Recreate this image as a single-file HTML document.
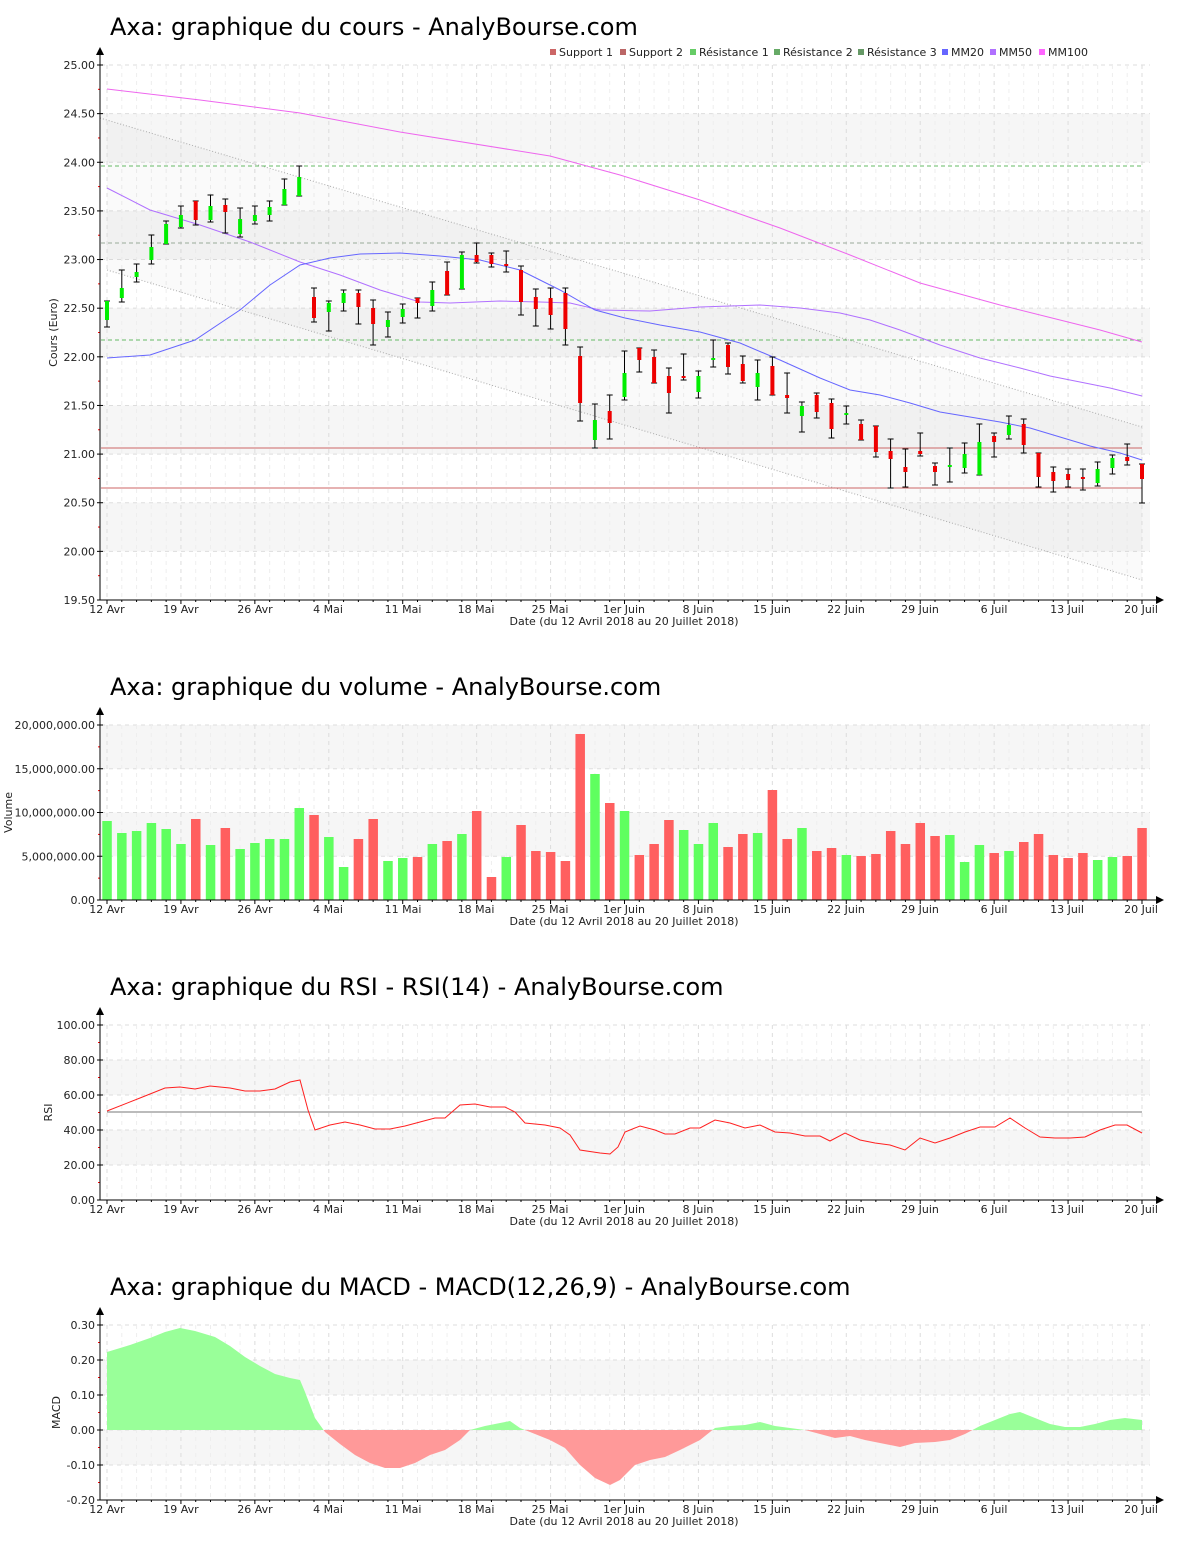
<!DOCTYPE html>
<html><head><meta charset="utf-8"><style>
body{margin:0;background:#fff;}
svg text{font-family:"DejaVu Sans","Liberation Sans",sans-serif;}
</style></head><body>
<svg id="s" width="1200" height="1550" xmlns="http://www.w3.org/2000/svg"></svg>
<script>
const S=document.getElementById('s');let h='';
const X0=107,DX=(1142-107)/70;
const xs=i=>X0+i*DX;
const ticks=[["12 Avr",107],["19 Avr",181],["26 Avr",255],["4 Mai",328],["11 Mai",403],["18 Mai",476],["25 Mai",550],["1er Juin",624],["8 Juin",698],["15 Juin",772],["22 Juin",846],["29 Juin",920],["6 Juil",994],["13 Juil",1067],["20 Juil",1141]];
function frame(top,bot,labels,bands,title,ty,ylab,ylx){
  h+=`<text x="110" y="${ty}" font-size="24" fill="#000">${title}</text>`;
  const n=labels.length-1,st=(bot-top)/n;
  for(const b of bands){h+=`<rect x="101" y="${top+b*st}" width="1049" height="${st}" fill="#f6f6f6"/>`;}
  for(let i=0;i<=n;i++){const y=top+i*st;h+=`<line x1="101" x2="1150" y1="${y}" y2="${y}" stroke="#ddd" stroke-dasharray="4,4"/>`;
    h+=`<text x="95" y="${y+4}" font-size="11" text-anchor="end" fill="#222">${labels[i]}</text><line x1="97" x2="103" y1="${y}" y2="${y}" stroke="#000"/>`;
    if(i<n)h+=`<line x1="98" x2="100" y1="${y+st/2}" y2="${y+st/2}" stroke="#f00"/>`;}
  for(let i=0;i<=70;i++){const x=xs(i);h+=`<line x1="${x}" x2="${x}" y1="${top}" y2="${bot}" stroke="${i%5==0?'#ddd':'#eee'}" stroke-dasharray="4,4"/>`;
    h+=`<line x1="${x}" x2="${x}" y1="${bot}" y2="${bot+(i%5==0?4:2)}" stroke="#000"/>`;}
  for(const [t,x] of ticks)h+=`<text x="${x}" y="${bot+13}" font-size="11" text-anchor="middle" fill="#222">${t}</text>`;
  h+=`<text x="624" y="${bot+25}" font-size="11" text-anchor="middle" fill="#222">Date (du 12 Avril 2018 au 20 Juillet 2018)</text>`;
  h+=`<text transform="translate(${ylx},${(top+bot)/2}) rotate(-90)" font-size="11" text-anchor="middle" fill="#222">${ylab}</text>`;
}
function axes(top,bot){h+=`<line x1="100" x2="100" y1="${top-12}" y2="${bot}" stroke="#000"/><path d="M96,${top-10} L100,${top-18} L104,${top-10}Z"/>`;
 h+=`<line x1="100" x2="1158" y1="${bot}" y2="${bot}" stroke="#000"/><path d="M1156,${bot-4} L1164,${bot} L1156,${bot+4}Z"/>`;}
// ---- chart 1
frame(65,600,["25.00","24.50","24.00","23.50","23.00","22.50","22.00","21.50","21.00","20.50","20.00","19.50"],[1,3,5,7,9],"Axa: graphique du cours - AnalyBourse.com",35,"Cours (Euro)",57);
h+=`<polygon points="107,120 1142,427 1142,580 107,270" fill="#888" fill-opacity="0.045"/>`;
h+=`<line x1="100" y1="118" x2="1142" y2="427" stroke="#aaa" stroke-dasharray="1,2"/><line x1="107" y1="270" x2="1142" y2="580" stroke="#aaa" stroke-dasharray="1,2"/>`;
h+=`<line x1="101" x2="1142" y1="166" y2="166" stroke="#66bb66" stroke-dasharray="4,3"/><line x1="101" x2="1142" y1="243" y2="243" stroke="#99aa99" stroke-dasharray="4,3"/><line x1="101" x2="1142" y1="340" y2="340" stroke="#66bb66" stroke-dasharray="4,3"/>`;
h+=`<line x1="101" x2="1142" y1="448" y2="448" stroke="#cc6666"/><line x1="101" x2="1142" y1="488" y2="488" stroke="#cc6666"/>`;
const pl=(p,c)=>h+=`<polyline points="${p}" fill="none" stroke="${c}" stroke-width="1"/>`;
pl("107,89 200,100 300,113 400,132 550,156 620,175 700,200 780,228 850,255 920,283 1000,305 1060,320 1100,330 1142,342","#ee66ee");
pl("107,188 150,210 200,225 250,242 300,262 340,275 380,290 420,302 450,303 500,301 540,302 570,303 600,310 650,311 700,307 760,305 800,308 840,313 870,320 900,330 940,345 980,358 1020,368 1050,376 1080,382 1110,388 1142,396","#b070ff");
pl("107,358 150,355 195,340 240,310 270,285 300,265 330,258 360,254 400,253 440,256 480,260 520,270 560,290 595,310 625,318 660,325 700,332 740,343 780,360 820,378 850,390 880,395 910,403 940,412 970,417 1000,422 1030,428 1060,437 1090,446 1120,453 1142,460","#6666ff");
const C=[[301,301,320,327,'g'],[270,288,298,302,'g'],[264,272,277,282,'g'],[235,247,260,264,'g'],[221,224,244,244,'g'],[206,215,227,228,'g'],[201,201,220,225,'r'],[195,206,220,222,'g'],[199,205,212,233,'r'],[208,219,234,237,'g'],[206,215,221,224,'g'],[201,207,215,221,'g'],[179,189,205,205,'g'],[166,177,196,196,'g'],
[288,297,318,322,'r'],[301,303,312,331,'g'],[290,293,303,311,'g'],[290,293,307,324,'r'],[300,308,324,345,'r'],[312,320,327,337,'g'],[304,309,317,323,'g'],[298,298,303,318,'r'],[282,290,306,311,'g'],[262,271,295,295,'r'],[252,255,289,289,'g'],[243,255,262,263,'r'],[253,255,264,267,'r'],[251,264,266,272,'r'],[266,270,302,315,'r'],[289,297,309,326,'r'],[288,298,315,329,'r'],[288,293,329,345,'r'],
[347,356,403,421,'r'],[404,420,440,448,'g'],[395,411,423,439,'r'],[351,373,397,400,'g'],[348,348,360,372,'r'],[350,357,383,383,'r'],[368,376,393,413,'r'],[354,376,377,380,'r'],[371,376,392,398,'g'],[340,358,359,367,'g'],[343,345,367,374,'r'],[356,364,381,383,'r'],[360,373,387,400,'g'],[357,366,395,395,'r'],[373,395,398,413,'r'],[402,406,416,432,'g'],[393,395,412,418,'r'],
[399,403,429,438,'r'],[406,413,415,424,'g'],[420,424,440,440,'r'],[426,426,452,457,'r'],[439,451,459,488,'r'],[449,467,472,487,'r'],[433,451,454,456,'r'],[463,466,472,485,'r'],[448,465,467,482,'g'],[443,454,468,473,'g'],[424,442,475,475,'g'],[433,436,442,457,'r'],[416,425,435,439,'g'],[419,424,445,453,'r'],[453,453,477,487,'r'],[467,472,481,492,'r'],[469,474,480,487,'r'],[469,477,479,490,'r'],[462,469,483,486,'g'],[455,458,468,474,'g'],[444,457,461,465,'r'],[464,464,479,503,'r']];
C.forEach((c,i)=>{const x=xs(i).toFixed(1);h+=`<line x1="${x}" x2="${x}" y1="${c[0]}" y2="${c[3]}" stroke="#000"/><line x1="${x-3}" x2="${+x+3}" y1="${c[0]}" y2="${c[0]}" stroke="#000"/><line x1="${x-3}" x2="${+x+3}" y1="${c[3]}" y2="${c[3]}" stroke="#000"/>`;
 h+=`<rect x="${x-2}" y="${c[1]}" width="4" height="${Math.max(2,c[2]-c[1])}" fill="${c[4]=='g'?'#00ee00':'#ee0000'}"/>`;});
axes(65,600);
const lg=[["Support 1",550,"#cc6666"],["Support 2",620,"#bb6666"],["Résistance 1",690,"#66cc66"],["Résistance 2",774,"#66aa66"],["Résistance 3",858,"#669966"],["MM20",942,"#6666ff"],["MM50",990,"#b070ff"],["MM100",1039,"#ff66ff"]];
for(const [t,x,c] of lg)h+=`<rect x="${x}" y="49" width="6" height="6" fill="${c}"/><text x="${x+9}" y="56" font-size="11" fill="#222">${t}</text>`;
// ---- chart 2 volume
frame(725,900,["20,000,000.00","15,000,000.00","10,000,000.00","5,000,000.00","0.00"],[0,2],"Axa: graphique du volume - AnalyBourse.com",695,"Volume",12);
const V=[363,399,393,369,387,432,357,435,384,447,429,417,417,324,345,411,501,417,357,483,474,471,432,423,402,333,531,471,375,453,456,483,102,222,309,333,465,432,360,390,432,369,441,402,399,270,417,384,453,444,465,468,462,393,432,369,408,405,486,435,459,453,426,402,465,474,459,480,471,468,384];
const vc=("ggggggrgrgggggrggrrggrgrgrrgrrrrrg"+"rgrrrgggrrgrrgrrgrrrrrrgggrgrrrrrggrr").split('');
V.forEach((v,i)=>{const y=700+v/3;h+=`<rect x="${xs(i)-4.7}" y="${y}" width="9.5" height="${900-y}" fill="${vc[i]=='g'?'#5fff5f':'#ff5f5f'}"/>`;});
axes(725,900);
// ---- chart 3 RSI
frame(1025,1200,["100.00","80.00","60.00","40.00","20.00","0.00"],[1,3],"Axa: graphique du RSI - RSI(14) - AnalyBourse.com",995,"RSI",52);
h+=`<line x1="107" x2="1142" y1="1112" y2="1112" stroke="#777"/>`;
pl("107,1111 140,1098 165,1088 180,1087 195,1089 210,1086 230,1088 245,1091 260,1091 275,1089 290,1082 300,1080 308,1110 315,1130 330,1125 345,1122 360,1125 375,1129 390,1129 405,1126 420,1122 435,1118 445,1118 460,1105 475,1104 490,1107 505,1107 515,1112 525,1123 545,1125 560,1128 570,1135 580,1150 600,1153 610,1154 618,1147 625,1132 640,1126 655,1130 665,1134 675,1134 690,1128 700,1128 715,1120 730,1123 745,1128 760,1125 775,1132 790,1133 805,1136 820,1136 830,1141 845,1133 860,1140 875,1143 890,1145 905,1150 920,1138 935,1143 950,1138 965,1132 980,1127 995,1127 1010,1118 1025,1128 1040,1137 1055,1138 1070,1138 1085,1137 1100,1130 1115,1125 1127,1125 1142,1133","#ff2020");
axes(1025,1200);
// ---- chart 4 MACD
frame(1325,1500,["0.30","0.20","0.10","0.00","-0.10","-0.20"],[1,3],"Axa: graphique du MACD - MACD(12,26,9) - AnalyBourse.com",1295,"MACD",60);
const M="107,1352 130,1345 150,1338 165,1332 180,1328 195,1331 215,1337 230,1346 245,1357 260,1366 275,1374 290,1378 300,1380 305,1392 315,1418 325,1432 340,1444 355,1455 370,1463 385,1468 400,1468 415,1463 430,1455 445,1450 460,1440 470,1430 485,1426 500,1423 510,1421 520,1428 530,1432 550,1440 565,1448 580,1465 595,1478 610,1485 620,1480 635,1465 650,1460 665,1457 680,1450 700,1440 715,1428 730,1426 745,1425 760,1422 775,1426 790,1428 805,1430 820,1434 835,1438 850,1436 865,1440 880,1443 900,1447 915,1443 935,1442 950,1440 965,1434 980,1426 995,1420 1010,1414 1020,1412 1035,1418 1050,1424 1065,1427 1080,1427 1095,1424 1110,1420 1125,1418 1142,1420";
h+=`<defs><clipPath id="ca"><rect x="0" y="1300" width="1200" height="130"/></clipPath><clipPath id="cb"><rect x="0" y="1430" width="1200" height="100"/></clipPath></defs>`;
const poly=`107,1430 ${M} 1142,1430`;
h+=`<polygon points="${poly}" fill="#99ff99" clip-path="url(#ca)"/><polygon points="${poly}" fill="#ff9999" clip-path="url(#cb)"/>`;
axes(1325,1500);
S.innerHTML=h;
</script>
</body></html>
